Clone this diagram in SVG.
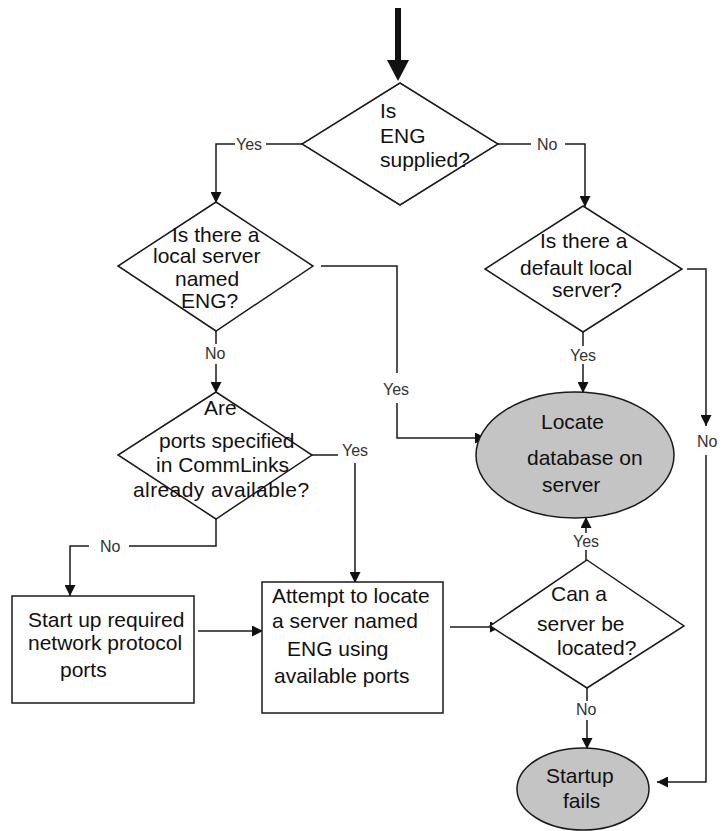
<svg xmlns="http://www.w3.org/2000/svg" width="723" height="831" viewBox="0 0 723 831">
<defs>
<style>
.n{fill:#fff;stroke:#1a1a1a;stroke-width:1.5}
.g{fill:#c4c4c4;stroke:#1a1a1a;stroke-width:1.5}
.t{font-family:"Liberation Sans",Arial,sans-serif;font-size:21px;fill:#111}
.c{fill:none;stroke:#1a1a1a;stroke-width:1.5}
.l{font-family:"Liberation Sans",Arial,sans-serif;font-size:16px;fill:#333}
</style>
<marker id="ah" markerUnits="userSpaceOnUse" markerWidth="11" markerHeight="11" refX="11" refY="5.5" orient="auto" viewBox="0 0 11 11">
<path d="M0,0 L11,5.5 L0,11 z" fill="#111"/>
</marker>
</defs>
<g id="connectors">
<path d="M398,8 V62" stroke="#111" stroke-width="6" fill="none"/>
<polygon points="387,60 409,60 398,81" fill="#111"/>
<path class="c" d="M302,144 H266"/>
<path class="c" d="M235,144 H216 V203" marker-end="url(#ah)"/>
<path class="c" d="M497,144 H531"/>
<path class="c" d="M565,144 H585 V207" marker-end="url(#ah)"/>
<path class="c" d="M216,331 V344"/>
<path class="c" d="M216,364 V393" marker-end="url(#ah)"/>
<path class="c" d="M321,266 H397 V373"/>
<path class="c" d="M397,403 V438 H486" marker-end="url(#ah)"/>
<path class="c" d="M312,455 H338"/>
<path class="c" d="M355,463 V583" marker-end="url(#ah)"/>
<path class="c" d="M216,519 V546 H129"/>
<path class="c" d="M89,546 H70 V596" marker-end="url(#ah)"/>
<path class="c" d="M198,631 H263" marker-end="url(#ah)"/>
<path class="c" d="M450,627 H501" marker-end="url(#ah)"/>
<path class="c" d="M586,560 V550"/>
<path class="c" d="M586,533 V517" marker-end="url(#ah)"/>
<path class="c" d="M587,688 V701"/>
<path class="c" d="M587,720 V749" marker-end="url(#ah)"/>
<path class="c" d="M583,332 V346"/>
<path class="c" d="M583,364 V393" marker-end="url(#ah)"/>
<path class="c" d="M687,269 H706 V426" marker-end="url(#ah)"/>
<path class="c" d="M706,455 V782 H657" marker-end="url(#ah)"/>
<text class="l" x="236" y="150">Yes</text>
<text class="l" x="537" y="150">No</text>
<text class="l" x="205" y="359">No</text>
<text class="l" x="383" y="395">Yes</text>
<text class="l" x="342" y="456">Yes</text>
<text class="l" x="100" y="552">No</text>
<text class="l" x="573" y="547">Yes</text>
<text class="l" x="576" y="715">No</text>
<text class="l" x="570" y="361">Yes</text>
<text class="l" x="697" y="447">No</text>
</g>
<g id="d1">
<polygon class="n" points="400,83 498,144 400,205 302,144"/>
<text class="t" x="380" y="118">Is</text>
<text class="t" x="380" y="143">ENG</text>
<text class="t" x="380" y="167">supplied?</text>
</g>
<g id="d2">
<polygon class="n" points="216,202 313,266 216,331 118,266"/>
<text class="t" x="172" y="242">Is there a</text>
<text class="t" x="153" y="263">local server</text>
<text class="t" x="175" y="286">named</text>
<text class="t" x="181" y="308">ENG?</text>
</g>
<g id="d3">
<polygon class="n" points="216,392 312,455 216,519 118,455"/>
<text class="t" x="204" y="415">Are</text>
<text class="t" x="159" y="448">ports specified</text>
<text class="t" x="156" y="472">in CommLinks</text>
<text class="t" x="133" y="497" letter-spacing="0.4">already available?</text>
</g>
<g id="d4">
<polygon class="n" points="583,206 682,269 583,332 485,269"/>
<text class="t" x="540" y="248">Is there a</text>
<text class="t" x="520" y="275">default local</text>
<text class="t" x="552" y="297">server?</text>
</g>
<g id="e1">
<ellipse class="g" cx="575" cy="455" rx="99" ry="63"/>
<text class="t" x="541" y="429">Locate</text>
<text class="t" x="527" y="465">database on</text>
<text class="t" x="542" y="492">server</text>
</g>
<g id="b1">
<rect class="n" x="12" y="596" width="182" height="107"/>
<text class="t" x="28" y="627">Start up required</text>
<text class="t" x="28" y="650">network protocol</text>
<text class="t" x="60" y="677">ports</text>
</g>
<g id="b2">
<rect class="n" x="262" y="582" width="181" height="131"/>
<text class="t" x="272" y="603">Attempt to locate</text>
<text class="t" x="272" y="628">a server named</text>
<text class="t" x="287" y="656">ENG using</text>
<text class="t" x="274" y="683">available ports</text>
</g>
<g id="d5">
<polygon class="n" points="587,560 684,626 587,688 490,626"/>
<text class="t" x="551" y="601">Can a</text>
<text class="t" x="537" y="631">server be</text>
<text class="t" x="557" y="655">located?</text>
</g>
<g id="e2">
<ellipse class="g" cx="583" cy="789" rx="66" ry="41"/>
<text class="t" x="546" y="783">Startup</text>
<text class="t" x="563" y="808">fails</text>
</g>
</svg>
